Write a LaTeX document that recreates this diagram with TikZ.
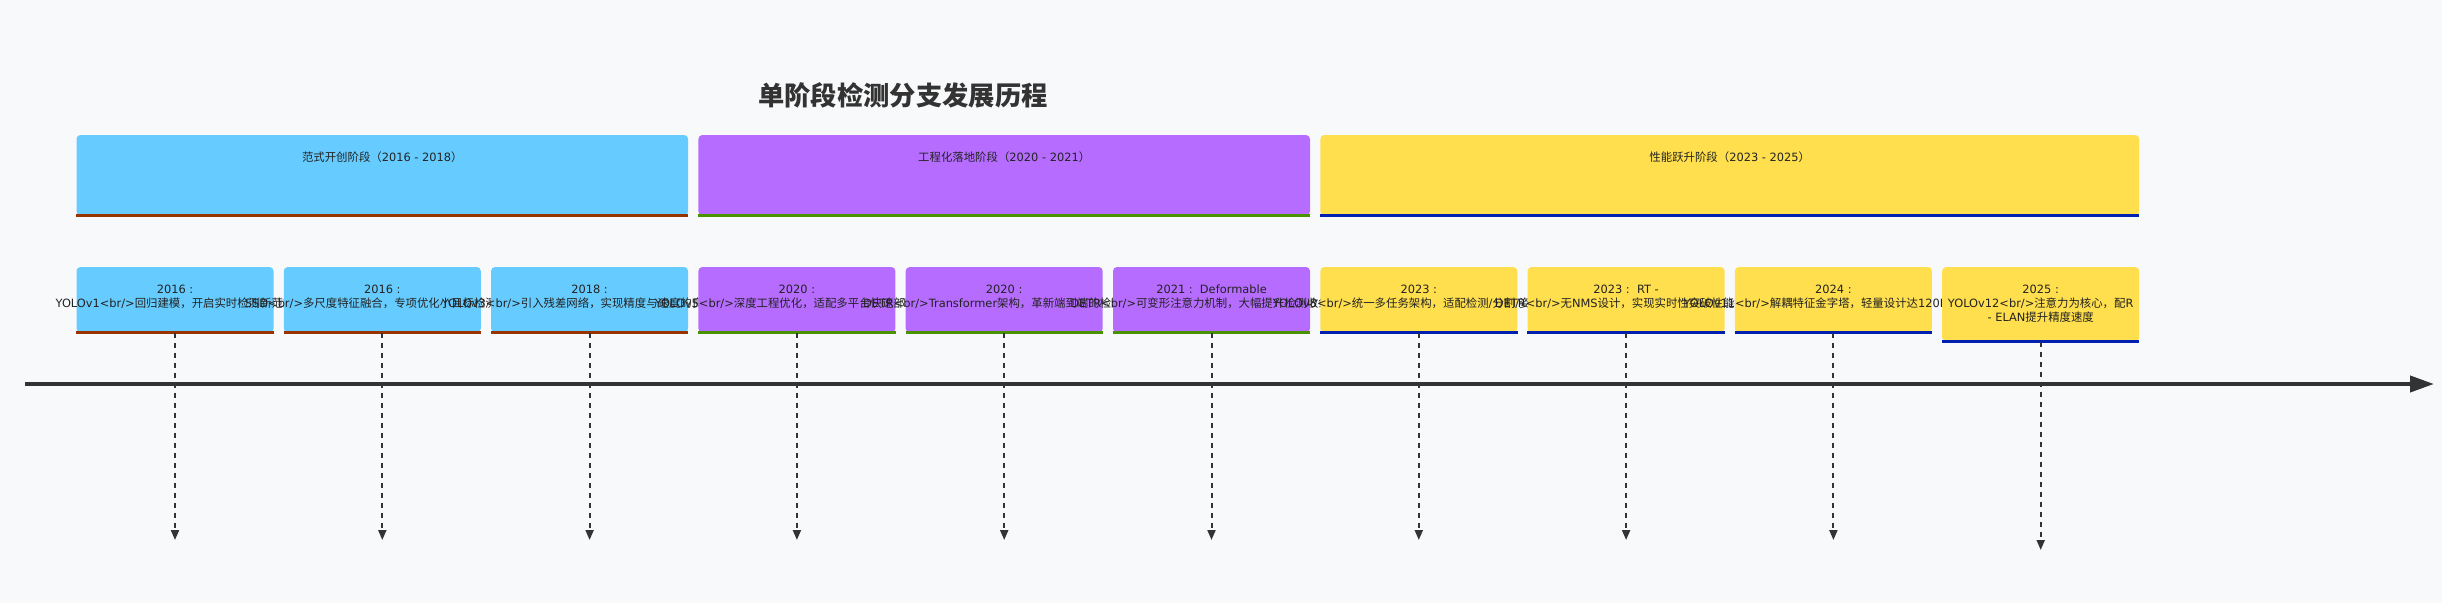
\documentclass[tikz,border=0pt]{standalone}
\usepackage{fontspec}
\setmainfont{Noto Sans CJK SC}
\newfontfamily\latf{DejaVu Sans}
\newcommand\zlat[1]{{\latf #1}}
\usetikzlibrary{arrows.meta}
\definecolor{bgc}{HTML}{F8F9FB}
\definecolor{fillA}{HTML}{66CCFF}
\definecolor{lineA}{HTML}{993300}
\definecolor{fillB}{HTML}{B66CFF}
\definecolor{lineB}{HTML}{499300}
\definecolor{fillC}{HTML}{FFDF4D}
\definecolor{lineC}{HTML}{0020B2}
\definecolor{ink}{HTML}{222222}
\definecolor{axisc}{HTML}{333333}
\begin{document}
\begin{tikzpicture}[x=1pt,y=-1pt,
  secbox/.style={rectangle, rounded corners=4pt, inner sep=0pt, minimum height=80.5pt, draw=none},
  evbox/.style={rectangle, rounded corners=4pt, inner sep=0pt, minimum width=197pt, minimum height=65.5pt, draw=none},
  botline/.style={line width=3pt},
  evtext/.style={font=\fontsize{11.4}{14}\selectfont, text=ink, inner sep=0pt, text height=9.5pt, text depth=1.3pt},
  titletext/.style={font=\fontsize{26.3}{30}\selectfont\bfseries, text=axisc, inner sep=0pt},
  axisline/.style={line width=4pt, draw=axisc, -{Triangle[length=24pt,width=16pt]}},
  dline/.style={line width=2pt, draw=axisc, dash pattern=on 5pt off 5pt, -{Triangle[length=10pt,width=8pt]}}
]
\fill[bgc] (0,0) rectangle (2442,603);
\useasboundingbox (0,0) rectangle (2442,603);

% title
\node[titletext] (title) at (903,95) {单阶段检测分支发展历程};

% sections
\node[secbox, fill=fillA, minimum width=611.6pt] (s1) at (382.3,175.25) {};
\draw[botline, lineA] (s1.south west) -- (s1.south east);
\node[evtext] (s1t) at (382.3,157) {范式开创阶段（\zlat{2016 - 2018}）};

\node[secbox, fill=fillB, minimum width=611.6pt] (s2) at (1004.2,175.25) {};
\draw[botline, lineB] (s2.south west) -- (s2.south east);
\node[evtext] (s2t) at (1004.2,157) {工程化落地阶段（\zlat{2020 - 2021}）};

\node[secbox, fill=fillC, minimum width=818.9pt] (s3) at (1729.75,175.25) {};
\draw[botline, lineC] (s3.south west) -- (s3.south east);
\node[evtext] (s3t) at (1729.75,157) {性能跃升阶段（\zlat{2023 - 2025}）};

% axis
\coordinate (axL) at (25,384);
\coordinate (axR) at (2434,384);
\draw[axisline] (axL) -- (axR);

% events (drawn in order: box, then text)
\node[evbox, fill=fillA] (e1) at (175,299.75) {};
\draw[botline, lineA] (e1.south west) -- (e1.south east);
\node[evtext] (e1a) at (175,289) {\zlat{2016 :}};
\node[evtext] (e1b) at (175,303.5) {\zlat{YOLOv1<br/>}回归建模，开启实时检测新范式};

\node[evbox, fill=fillA] (e2) at (382.3,299.75) {};
\draw[botline, lineA] (e2.south west) -- (e2.south east);
\node[evtext] (e2a) at (382.3,289) {\zlat{2016 :}};
\node[evtext] (e2b) at (382.3,303.5) {\zlat{SSD<br/>}多尺度特征融合，专项优化小目标检测性能};

\node[evbox, fill=fillA] (e3) at (589.6,299.75) {};
\draw[botline, lineA] (e3.south west) -- (e3.south east);
\node[evtext] (e3a) at (589.6,289) {\zlat{2018 :}};
\node[evtext] (e3b) at (589.6,303.5) {\zlat{YOLOv3<br/>}引入残差网络，实现精度与速度的良好平衡};

\node[evbox, fill=fillB] (e4) at (796.9,299.75) {};
\draw[botline, lineB] (e4.south west) -- (e4.south east);
\node[evtext] (e4a) at (796.9,289) {\zlat{2020 :}};
\node[evtext] (e4b) at (796.9,303.5) {\zlat{YOLOv5<br/>}深度工程优化，适配多平台快速部署落地};

\node[evbox, fill=fillB] (e5) at (1004.2,299.75) {};
\draw[botline, lineB] (e5.south west) -- (e5.south east);
\node[evtext] (e5a) at (1004.2,289) {\zlat{2020 :}};
\node[evtext] (e5b) at (1004.2,303.5) {\zlat{DETR<br/>Transformer}架构，革新端到端的检测范式};

\node[evbox, fill=fillB] (e6) at (1211.5,299.75) {};
\draw[botline, lineB] (e6.south west) -- (e6.south east);
\node[evtext] (e6a) at (1211.5,289) {\zlat{2021 :\ \ Deformable}};
\node[evtext] (e6b) at (1211.5,303.5) {\zlat{DETR<br/>}可变形注意力机制，大幅提升检测收敛速度};

\node[evbox, fill=fillC] (e7) at (1418.8,299.75) {};
\draw[botline, lineC] (e7.south west) -- (e7.south east);
\node[evtext] (e7a) at (1418.8,289) {\zlat{2023 :}};
\node[evtext] (e7b) at (1418.8,303.5) {\zlat{YOLOv8<br/>}统一多任务架构，适配检测\zlat{/}分割\zlat{/}姿态估计};

\node[evbox, fill=fillC] (e8) at (1626.1,299.75) {};
\draw[botline, lineC] (e8.south west) -- (e8.south east);
\node[evtext] (e8a) at (1626.1,289) {\zlat{2023 :\ \ RT -}};
\node[evtext] (e8b) at (1626.1,303.5) {\zlat{DETR<br/>}无\zlat{NMS}设计，实现实时性突破性能提升};

\node[evbox, fill=fillC] (e9) at (1833.4,299.75) {};
\draw[botline, lineC] (e9.south west) -- (e9.south east);
\node[evtext] (e9a) at (1833.4,289) {\zlat{2024 :}};
\node[evtext] (e9b) at (1833.4,303.5) {\zlat{YOLOv11<br/>}解耦特征金字塔，轻量设计达\zlat{120FPS}以上};

\node[evbox, fill=fillC, minimum height=74.5pt] (e10) at (2040.7,304.25) {};
\draw[botline, lineC] (e10.south west) -- (e10.south east);
\node[evtext] (e10a) at (2040.7,289) {\zlat{2025 :}};
\node[evtext] (e10b) at (2040.7,303.5) {\zlat{YOLOv12<br/>}注意力为核心，配\zlat{R}};
\node[evtext] (e10c) at (2040.7,317.7) {\zlat{- ELAN}提升精度速度};

% dashed connectors
\coordinate (d1) at (175,540);
\coordinate (d2) at (382.3,540);
\coordinate (d3) at (589.6,540);
\coordinate (d4) at (796.9,540);
\coordinate (d5) at (1004.2,540);
\coordinate (d6) at (1211.5,540);
\coordinate (d7) at (1418.8,540);
\coordinate (d8) at (1626.1,540);
\coordinate (d9) at (1833.4,540);
\coordinate (d10) at (2040.7,550);
\foreach \k in {1,...,10} { \draw[dline] (e\k.south) -- (d\k); }
\end{tikzpicture}
\end{document}
